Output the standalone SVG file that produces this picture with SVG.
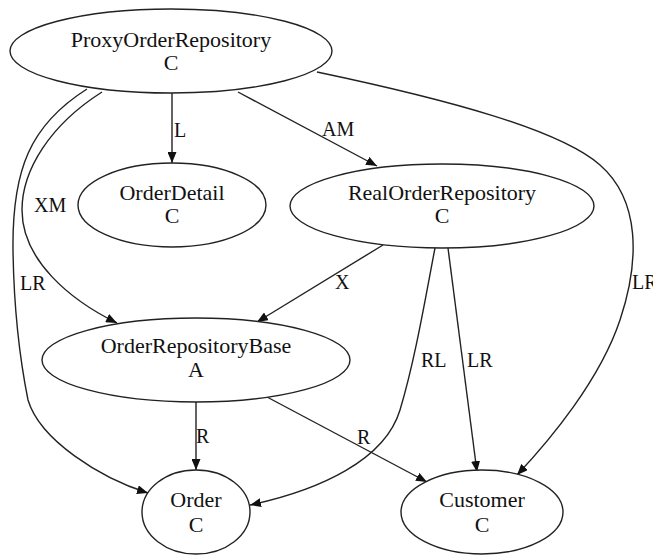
<svg xmlns="http://www.w3.org/2000/svg" width="653" height="556" viewBox="0 0 653 556">
<style>
  .node ellipse { fill: #ffffff; stroke: #222222; stroke-width: 1.4; }
  .ntext { font-family: 'Liberation Serif', 'Times New Roman', serif; font-size: 22px; fill: #111111; text-anchor: middle; }
  .edge path { fill: none; stroke: #222222; stroke-width: 1.4; marker-end: url(#arrow); }
  .elabel { font-family: 'Liberation Serif', 'Times New Roman', serif; font-size: 20px; fill: #111111; }
</style>
<defs>
  <marker id="arrow" markerUnits="userSpaceOnUse" markerWidth="12" markerHeight="9" refX="11" refY="4.5" orient="auto">
    <path d="M0,0 L11,4.5 L0,9 z" fill="#111111"/>
  </marker>
</defs>
<rect width="653" height="556" fill="#ffffff"/>
<g id="connectors">
  <g class="edge"><path d="M172,93 L172,163"/></g>
  <g class="edge"><path d="M238,92 L377,166"/></g>
  <g class="edge"><path d="M102,92 C50,125 22,170 22,210 C22,260 70,300 117,323"/></g>
  <g class="edge"><path d="M87,89 C30,125 12,170 13,250 C14,320 22,370 28,400 C40,440 100,478 148,493"/></g>
  <g class="edge"><path d="M317,72 C450,100 560,130 600,165 C640,200 640,260 620,320 C600,380 550,440 517,475"/></g>
  <g class="edge"><path d="M383,245 L257,322"/></g>
  <g class="edge"><path d="M435,248 C425,300 415,360 400,410 C385,460 320,490 250,505"/></g>
  <g class="edge"><path d="M448,248 L477,472"/></g>
  <g class="edge"><path d="M196,401 L196,470"/></g>
  <g class="edge"><path d="M267,397 L427,482"/></g>
  <text class="elabel" x="174" y="137">L</text>
  <text class="elabel" x="322" y="136">AM</text>
  <text class="elabel" x="34" y="212">XM</text>
  <text class="elabel" x="20" y="290">LR</text>
  <text class="elabel" x="335" y="289">X</text>
  <text class="elabel" x="632" y="289">LR</text>
  <text class="elabel" x="421" y="367">RL</text>
  <text class="elabel" x="467" y="367">LR</text>
  <text class="elabel" x="196" y="443">R</text>
  <text class="elabel" x="357" y="444">R</text>
</g>
<g id="ProxyOrderRepository" class="node">
  <ellipse cx="171" cy="51" rx="161" ry="42"/>
  <text class="ntext" x="171" y="47">ProxyOrderRepository</text>
  <text class="ntext" x="171" y="70">C</text>
</g>
<g id="OrderDetail" class="node">
  <ellipse cx="172" cy="205" rx="94" ry="42"/>
  <text class="ntext" x="172" y="200">OrderDetail</text>
  <text class="ntext" x="172" y="223">C</text>
</g>
<g id="RealOrderRepository" class="node">
  <ellipse cx="442" cy="206" rx="152" ry="42"/>
  <text class="ntext" x="442" y="200">RealOrderRepository</text>
  <text class="ntext" x="442" y="223">C</text>
</g>
<g id="OrderRepositoryBase" class="node">
  <ellipse cx="196" cy="360" rx="154" ry="42"/>
  <text class="ntext" x="196" y="353">OrderRepositoryBase</text>
  <text class="ntext" x="196" y="377">A</text>
</g>
<g id="Order" class="node">
  <ellipse cx="196" cy="512" rx="54" ry="42"/>
  <text class="ntext" x="196" y="507">Order</text>
  <text class="ntext" x="196" y="532">C</text>
</g>
<g id="Customer" class="node">
  <ellipse cx="482" cy="512" rx="81" ry="42"/>
  <text class="ntext" x="482" y="507">Customer</text>
  <text class="ntext" x="482" y="532">C</text>
</g>
</svg>
